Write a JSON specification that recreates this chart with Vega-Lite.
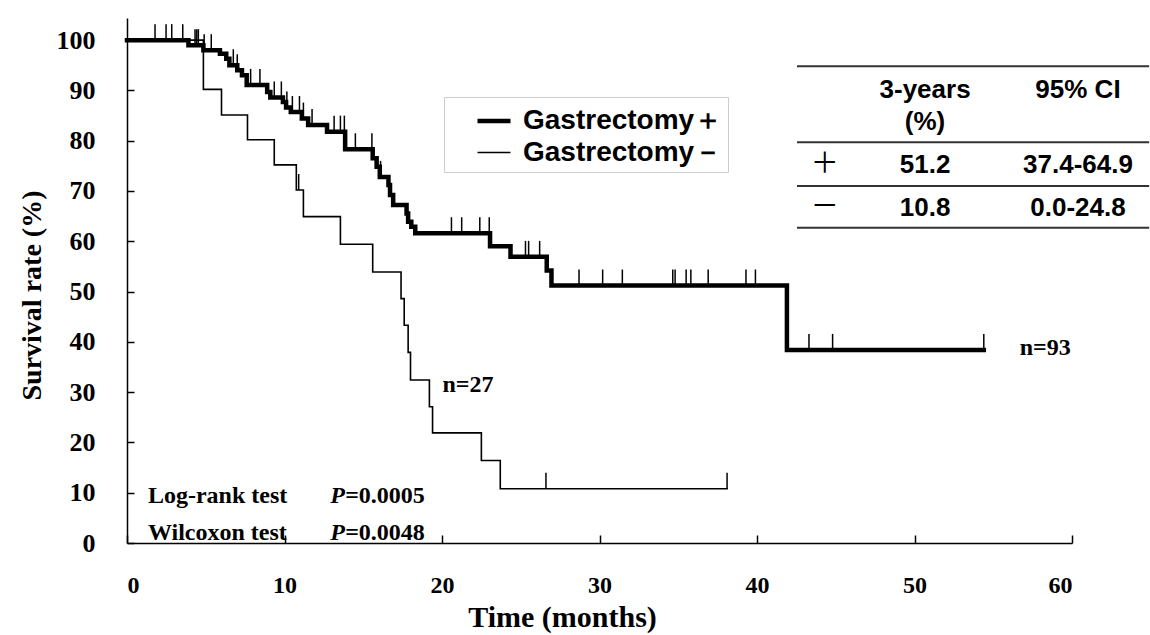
{
  "$schema": "https://vega.github.io/schema/vega-lite/v6.json",
  "width": 945,
  "height": 525,
  "autosize": {"type": "none"},
  "padding": {"left": 127, "top": 18, "right": 78, "bottom": 92},
  "background": "white",
  "config": {"view": {"stroke": null}},
  "layer": [
    {
      "data": {"values": [
        {"group": "Gastrectomy＋", "t": 0, "s": 100},
        {"group": "Gastrectomy＋", "t": 3.9, "s": 99.0},
        {"group": "Gastrectomy＋", "t": 4.85, "s": 98.0},
        {"group": "Gastrectomy＋", "t": 5.9, "s": 97.3},
        {"group": "Gastrectomy＋", "t": 6.3, "s": 96.3},
        {"group": "Gastrectomy＋", "t": 6.5, "s": 95.0},
        {"group": "Gastrectomy＋", "t": 7.0, "s": 94.0},
        {"group": "Gastrectomy＋", "t": 7.3, "s": 93.0},
        {"group": "Gastrectomy＋", "t": 7.6, "s": 91.1},
        {"group": "Gastrectomy＋", "t": 8.9, "s": 89.7},
        {"group": "Gastrectomy＋", "t": 9.1, "s": 88.6},
        {"group": "Gastrectomy＋", "t": 9.9, "s": 87.7},
        {"group": "Gastrectomy＋", "t": 10.1, "s": 86.6},
        {"group": "Gastrectomy＋", "t": 10.4, "s": 85.7},
        {"group": "Gastrectomy＋", "t": 11.1, "s": 84.4},
        {"group": "Gastrectomy＋", "t": 11.5, "s": 83.1},
        {"group": "Gastrectomy＋", "t": 12.7, "s": 81.8},
        {"group": "Gastrectomy＋", "t": 13.85, "s": 78.3},
        {"group": "Gastrectomy＋", "t": 15.6, "s": 76.5},
        {"group": "Gastrectomy＋", "t": 15.85, "s": 74.8},
        {"group": "Gastrectomy＋", "t": 16.05, "s": 72.8},
        {"group": "Gastrectomy＋", "t": 16.6, "s": 71.2},
        {"group": "Gastrectomy＋", "t": 16.7, "s": 69.2},
        {"group": "Gastrectomy＋", "t": 16.9, "s": 67.2},
        {"group": "Gastrectomy＋", "t": 17.75, "s": 65.5},
        {"group": "Gastrectomy＋", "t": 17.85, "s": 63.9},
        {"group": "Gastrectomy＋", "t": 18.05, "s": 62.9},
        {"group": "Gastrectomy＋", "t": 18.3, "s": 61.6},
        {"group": "Gastrectomy＋", "t": 23.05, "s": 59.0},
        {"group": "Gastrectomy＋", "t": 24.35, "s": 56.9},
        {"group": "Gastrectomy＋", "t": 26.65, "s": 54.2},
        {"group": "Gastrectomy＋", "t": 26.95, "s": 51.2},
        {"group": "Gastrectomy＋", "t": 41.9, "s": 38.4},
        {"group": "Gastrectomy＋", "t": 54.4, "s": 38.4},
        {"group": "Gastrectomy－", "t": 0, "s": 100},
        {"group": "Gastrectomy－", "t": 4.85, "s": 90.2},
        {"group": "Gastrectomy－", "t": 6.0, "s": 85.1},
        {"group": "Gastrectomy－", "t": 7.65, "s": 80.2},
        {"group": "Gastrectomy－", "t": 9.35, "s": 75.2},
        {"group": "Gastrectomy－", "t": 10.75, "s": 70.2},
        {"group": "Gastrectomy－", "t": 11.2, "s": 64.9},
        {"group": "Gastrectomy－", "t": 13.55, "s": 59.4},
        {"group": "Gastrectomy－", "t": 15.6, "s": 53.9},
        {"group": "Gastrectomy－", "t": 17.4, "s": 48.6},
        {"group": "Gastrectomy－", "t": 17.6, "s": 43.3},
        {"group": "Gastrectomy－", "t": 17.85, "s": 37.9},
        {"group": "Gastrectomy－", "t": 18.0, "s": 32.4},
        {"group": "Gastrectomy－", "t": 19.2, "s": 27.1},
        {"group": "Gastrectomy－", "t": 19.4, "s": 21.9},
        {"group": "Gastrectomy－", "t": 22.5, "s": 16.4},
        {"group": "Gastrectomy－", "t": 23.7, "s": 10.8},
        {"group": "Gastrectomy－", "t": 38.1, "s": 10.8}
      ]},
      "mark": {"type": "line", "interpolate": "step-after", "color": "black", "strokeCap": "square"},
      "encoding": {
        "x": {
          "field": "t", "type": "quantitative",
          "scale": {"domain": [0, 60], "nice": false, "zero": false},
          "axis": {
            "values": [0, 10, 20, 30, 40, 50, 60],
            "title": "Time (months)",
            "grid": false,
            "domainColor": "black", "domainWidth": 1.5,
            "tickColor": "black", "tickWidth": 1.5, "tickSize": -8,
            "labelPadding": 38,
            "labelFont": "Liberation Serif", "labelFontWeight": "bold", "labelFontSize": 24, "labelColor": "black",
            "titleFont": "Liberation Serif", "titleFontWeight": "bold", "titleFontSize": 30, "titleColor": "black",
            "titleX": 435, "titleY": 74, "titleBaseline": "middle"
          }
        },
        "y": {
          "field": "s", "type": "quantitative",
          "scale": {"domain": [0, 104.4], "nice": false},
          "axis": {
            "values": [0, 10, 20, 30, 40, 50, 60, 70, 80, 90, 100],
            "title": "Survival rate (%)",
            "grid": false,
            "domainColor": "black", "domainWidth": 1.5,
            "tickColor": "black", "tickWidth": 1.5, "tickSize": -7,
            "labelPadding": 39,
            "labelFont": "Liberation Serif", "labelFontWeight": "bold", "labelFontSize": 26, "labelColor": "black",
            "titleFont": "Liberation Serif", "titleFontWeight": "bold", "titleFontSize": 28, "titleColor": "black",
            "titleX": -95, "titleY": 277, "titleBaseline": "middle", "titleAlign": "center"
          }
        },
        "strokeWidth": {
          "field": "group", "type": "ordinal",
          "scale": {"domain": ["Gastrectomy＋", "Gastrectomy－"], "range": [4.5, 1.6]},
          "legend": {
            "title": null,
            "orient": "none", "legendX": 317, "legendY": 79,
            "symbolType": "stroke", "symbolSize": 1089, "symbolStrokeColor": "black",
            "labelFont": "Liberation Sans", "labelFontWeight": "bold", "labelFontSize": 28, "labelColor": "black",
            "labelOffset": 10, "labelLimit": 600,
            "labelExpr": "datum.label + '\u2003\u2002'",
            "strokeColor": "#cccccc", "padding": 5, "rowPadding": 0,
            "symbolOffset": 26
          }
        },
        "detail": {"field": "group"}
      }
    },
    {
      "data": {"values": [
        {"t": 1.78, "s": 100}, {"t": 2.48, "s": 100}, {"t": 2.84, "s": 100}, {"t": 3.54, "s": 100},
        {"t": 4.32, "s": 99.0}, {"t": 4.43, "s": 99.0}, {"t": 4.53, "s": 99.0},
        {"t": 4.9, "s": 98.0}, {"t": 5.35, "s": 98.0},
        {"t": 6.75, "s": 95.0}, {"t": 7.0, "s": 94.0},
        {"t": 7.85, "s": 91.1}, {"t": 8.44, "s": 91.1},
        {"t": 9.35, "s": 88.6}, {"t": 9.8, "s": 88.6},
        {"t": 10.15, "s": 86.6}, {"t": 10.5, "s": 85.7}, {"t": 10.95, "s": 85.7},
        {"t": 11.2, "s": 84.4}, {"t": 11.75, "s": 83.1},
        {"t": 13.15, "s": 81.8}, {"t": 13.55, "s": 81.8}, {"t": 13.8, "s": 81.8},
        {"t": 14.5, "s": 78.3}, {"t": 15.55, "s": 78.3}, {"t": 16.1, "s": 72.8},
        {"t": 20.6, "s": 61.6}, {"t": 21.25, "s": 61.6}, {"t": 22.4, "s": 61.6}, {"t": 23.0, "s": 61.6},
        {"t": 25.3, "s": 56.9}, {"t": 25.5, "s": 56.9}, {"t": 26.2, "s": 56.9},
        {"t": 28.7, "s": 51.2}, {"t": 30.2, "s": 51.2}, {"t": 31.45, "s": 51.2},
        {"t": 34.65, "s": 51.2}, {"t": 34.8, "s": 51.2}, {"t": 35.5, "s": 51.2}, {"t": 35.8, "s": 51.2},
        {"t": 36.9, "s": 51.2}, {"t": 39.3, "s": 51.2}, {"t": 39.9, "s": 51.2},
        {"t": 43.3, "s": 38.4}, {"t": 44.8, "s": 38.4}, {"t": 54.4, "s": 38.4},
        {"t": 10.9, "s": 70.2}, {"t": 26.6, "s": 10.8}, {"t": 38.1, "s": 10.8}
      ]},
      "mark": {"type": "tick", "orient": "vertical", "size": 16, "thickness": 1.5, "yOffset": -8, "color": "black", "opacity": 1},
      "encoding": {
        "x": {"field": "t", "type": "quantitative"},
        "y": {"field": "s", "type": "quantitative"}
      }
    },
    {
      "data": {"values": [
        {"t": 21.65, "s": 31.4, "label": "n=27"},
        {"t": 58.3, "s": 38.8, "label": "n=93"}
      ]},
      "mark": {"type": "text", "font": "Liberation Serif", "fontWeight": "bold", "fontSize": 24, "color": "black", "align": "center", "baseline": "middle"},
      "encoding": {
        "x": {"field": "t", "type": "quantitative"},
        "y": {"field": "s", "type": "quantitative"},
        "text": {"field": "label"}
      }
    },
    {
      "data": {"values": [
        {"t": 1.33, "s": 9.3, "label": "Log-rank test"},
        {"t": 1.33, "s": 1.9, "label": "Wilcoxon test"},
        {"t": 13.85, "s": 9.3, "label": "=0.0005"},
        {"t": 13.85, "s": 1.9, "label": "=0.0048"}
      ]},
      "mark": {"type": "text", "font": "Liberation Serif", "fontWeight": "bold", "fontSize": 24, "color": "black", "align": "left", "baseline": "middle"},
      "encoding": {
        "x": {"field": "t", "type": "quantitative"},
        "y": {"field": "s", "type": "quantitative"},
        "text": {"field": "label"}
      }
    },
    {
      "data": {"values": [
        {"t": 12.9, "s": 9.3, "label": "P"},
        {"t": 12.9, "s": 1.9, "label": "P"}
      ]},
      "mark": {"type": "text", "font": "Liberation Serif", "fontWeight": "bold", "fontStyle": "italic", "fontSize": 24, "color": "black", "align": "left", "baseline": "middle"},
      "encoding": {
        "x": {"field": "t", "type": "quantitative"},
        "y": {"field": "s", "type": "quantitative"},
        "text": {"field": "label"}
      }
    },
    {
      "data": {"values": [
        {"x1": 42.54, "x2": 64.9, "s": 94.8},
        {"x1": 42.54, "x2": 64.9, "s": 79.7},
        {"x1": 42.54, "x2": 64.9, "s": 71.0},
        {"x1": 42.54, "x2": 64.9, "s": 62.7}
      ]},
      "mark": {"type": "rule", "color": "#333333", "strokeWidth": 2},
      "encoding": {
        "x": {"field": "x1", "type": "quantitative"},
        "x2": {"field": "x2"},
        "y": {"field": "s", "type": "quantitative"}
      }
    },
    {
      "data": {"values": [
        {"t": 50.67, "s": 90.1, "label": "3-years"},
        {"t": 50.67, "s": 83.8, "label": "(%)"},
        {"t": 60.38, "s": 90.1, "label": "95% CI"},
        {"t": 50.67, "s": 75.1, "label": "51.2"},
        {"t": 60.38, "s": 75.1, "label": "37.4-64.9"},
        {"t": 50.67, "s": 66.7, "label": "10.8"},
        {"t": 60.38, "s": 66.7, "label": "0.0-24.8"}
      ]},
      "mark": {"type": "text", "font": "Liberation Sans", "fontWeight": "bold", "fontSize": 26, "color": "black", "align": "center", "baseline": "middle"},
      "encoding": {
        "x": {"field": "t", "type": "quantitative"},
        "y": {"field": "s", "type": "quantitative"},
        "text": {"field": "label"}
      }
    },
    {
      "data": {"values": [
        {"t": 44.3, "s": 75.1, "label": "＋"},
        {"t": 44.3, "s": 66.7, "label": "－"}
      ]},
      "mark": {"type": "text", "font": "Noto Sans CJK JP", "fontWeight": "normal", "fontSize": 28, "color": "black", "align": "center", "baseline": "middle"},
      "encoding": {
        "x": {"field": "t", "type": "quantitative"},
        "y": {"field": "s", "type": "quantitative"},
        "text": {"field": "label"}
      }
    }
  ]
}
